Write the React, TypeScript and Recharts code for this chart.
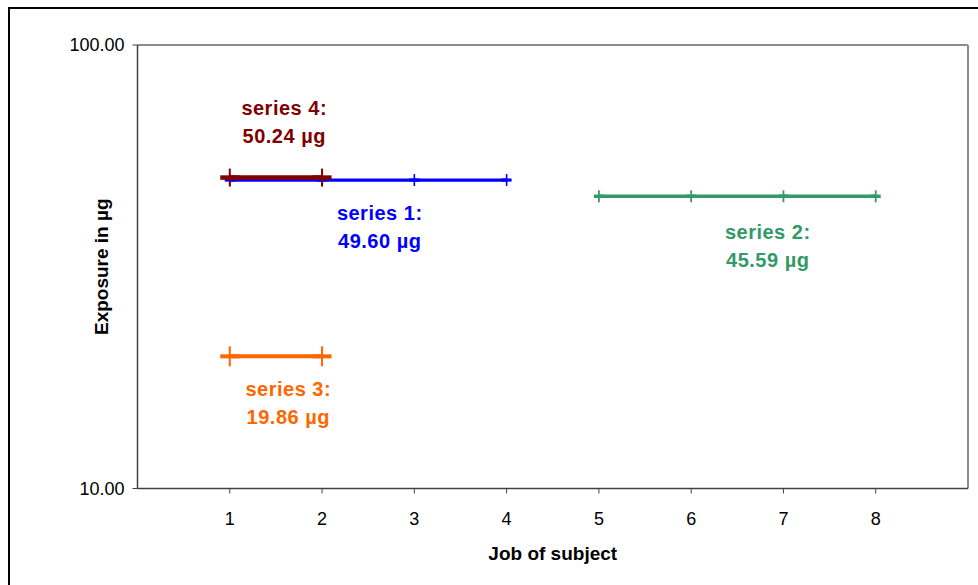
import { LineChart, Line, XAxis, YAxis, ReferenceDot, ReferenceLine, Label } from "recharts";

const xTicks = [1, 2, 3, 4, 5, 6, 7, 8];
const yTicks = [10, 100];

const seriesNames = ["series 1", "series 2", "series 3", "series 4"];
const seriesJobs = [
  [1, 2, 3, 4],
  [5, 6, 7, 8],
  [1, 2],
  [1, 2],
];
const seriesValues = [49.6, 45.59, 19.86, 50.24];
// where each annotation sits along the job axis
const labelJobs = [2.625, 6.83, 1.634, 1.59];

const STYLE = [
  { color: "#0000FF", width: 3.2, armX: 5, armY: 6, markW: 1.6, textDy: 40 },
  { color: "#339966", width: 3.5, armX: 5, armY: 6, markW: 1.8, textDy: 43 },
  { color: "#FF6600", width: 4, armX: 9.5, armY: 10, markW: 2, textDy: 40 },
  { color: "#800000", width: 4.5, armX: 9.5, armY: 9, markW: 2, textDy: -63 },
];

const FONT = "'Liberation Sans', Arial, Helvetica, sans-serif";

const makeData = (i: number) => seriesJobs[i].map((x) => ({ x, y: seriesValues[i] }));

const PlusDot = (s: (typeof STYLE)[number]) => (props: any) => {
  const { cx, cy, index } = props;
  if (cx == null || cy == null) return <g key={index} />;
  return (
    <g key={`p-${index}`}>
      <line x1={cx - s.armX} x2={cx + s.armX} y1={cy} y2={cy} stroke={s.color} strokeWidth={s.width} />
      <line x1={cx} x2={cx} y1={cy - s.armY} y2={cy + s.armY} stroke={s.color} strokeWidth={s.markW} />
    </g>
  );
};

export default function App() {
  const order = [1, 2, 0, 3];
  return (
    <div
      style={{
        position: "fixed",
        left: 8,
        top: 7,
        width: 980,
        height: 590,
        borderTop: "2px solid #000",
        borderLeft: "2px solid #000",
        background: "#fff",
      }}
    >
      <LineChart
        width={970}
        height={576}
        margin={{ top: 36, right: 12, bottom: 16.5, left: 27.5 }}
        style={{ fontFamily: FONT }}
      >
        <XAxis
          dataKey="x"
          type="number"
          domain={[0, 9]}
          ticks={xTicks}
          allowDuplicatedCategory={false}
          height={80}
          tickSize={5}
          tickMargin={19}
          axisLine={{ stroke: "#404040", strokeWidth: 1.5 }}
          tickLine={{ stroke: "#404040" }}
          tick={{ fill: "#000", fontSize: 18, fontFamily: FONT }}
        >
          <Label
            content={({ viewBox }: any) => (
              <text
                x={viewBox.x + viewBox.width / 2}
                y={viewBox.y + 71.5}
                textAnchor="middle"
                fontSize={19}
                fontWeight="bold"
                fontFamily={FONT}
                fill="#000"
              >
                Job of subject
              </text>
            )}
          />
        </XAxis>
        <YAxis
          type="number"
          scale="log"
          domain={[10, 100]}
          ticks={yTicks}
          width={100}
          tickSize={5}
          tickMargin={8}
          tickFormatter={(v: number) => v.toFixed(2)}
          axisLine={{ stroke: "#404040", strokeWidth: 1.5 }}
          tickLine={{ stroke: "#404040" }}
          tick={{ fill: "#000", fontSize: 18, fontFamily: FONT }}
        >
          <Label
            content={({ viewBox }: any) => {
              const x = viewBox.x + 70.5;
              const y = viewBox.y + viewBox.height / 2;
              return (
                <text
                  x={x}
                  y={y}
                  transform={`rotate(-90, ${x}, ${y})`}
                  textAnchor="middle"
                  fontSize={19}
                  fontWeight="bold"
                  fontFamily={FONT}
                  fill="#000"
                >
                  Exposure in µg
                </text>
              );
            }}
          />
        </YAxis>
        {/* plot frame: top and right edges */}
        <ReferenceLine y={100} stroke="#8c8c8c" strokeWidth={2} />
        <ReferenceLine x={9} stroke="#8c8c8c" strokeWidth={2} />
        {order.map((i) => (
          <Line
            key={seriesNames[i]}
            data={makeData(i)}
            dataKey="y"
            name={seriesNames[i]}
            stroke={STYLE[i].color}
            strokeWidth={STYLE[i].width}
            dot={PlusDot(STYLE[i])}
            activeDot={false}
            isAnimationActive={false}
          />
        ))}
        {order.map((i) => (
          <ReferenceDot
            key={`lab-${i}`}
            x={labelJobs[i]}
            y={seriesValues[i]}
            r={0}
            fill="none"
            stroke="none"
            label={{
              content: ({ viewBox }: any) => {
                const cx = viewBox.x + (viewBox.width || 0) / 2;
                const cy = viewBox.y + (viewBox.height || 0) / 2;
                return (
                  <text
                    textAnchor="middle"
                    fontSize={20}
                    fontWeight="bold"
                    fontFamily={FONT}
                    fill={STYLE[i].color}
                    letterSpacing={0.5}
                  >
                    <tspan x={cx} y={cy + STYLE[i].textDy}>
                      {seriesNames[i]}:
                    </tspan>
                    <tspan x={cx} y={cy + STYLE[i].textDy + 28}>
                      {seriesValues[i].toFixed(2)} µg
                    </tspan>
                  </text>
                );
              },
            }}
          />
        ))}
      </LineChart>
    </div>
  );
}
